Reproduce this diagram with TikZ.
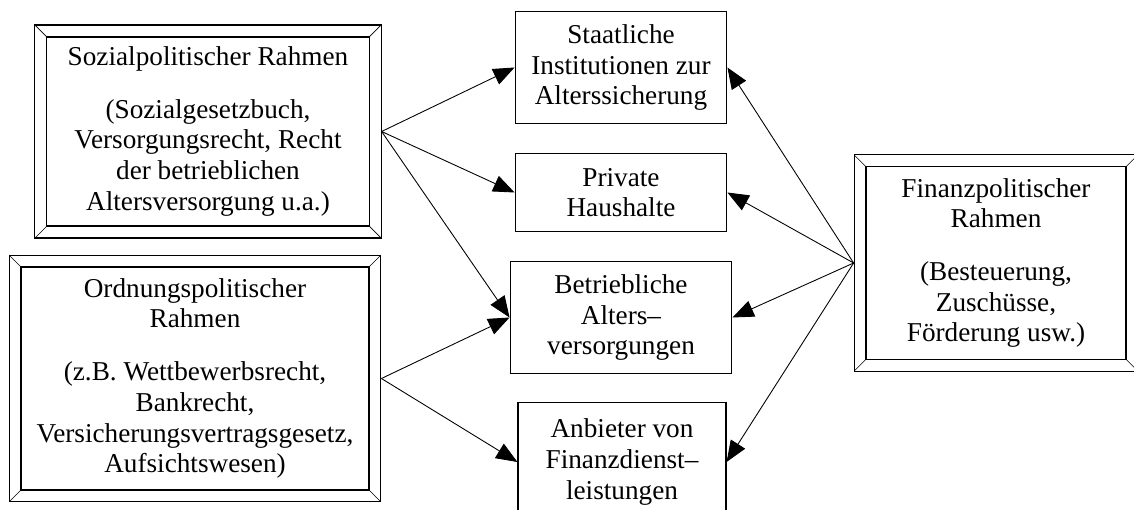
\documentclass[tikz,border=0pt]{standalone}
\usepackage{fontspec}
\setmainfont{Liberation Serif}
\usetikzlibrary{arrows.meta,calc}

\tikzset{
  kasten/.style={draw, line width=0.5pt, align=center, inner sep=2pt,
    font=\fontsize{12.4}{14}\selectfont},
  rahmen/.style={kasten, path picture={
    \draw[line width=0.6pt] ([shift={(0.19cm,0.19cm)}]path picture bounding box.south west)
      rectangle ([shift={(-0.19cm,-0.19cm)}]path picture bounding box.north east);
    \draw[line width=0.3pt] (path picture bounding box.south west) -- ++(0.19cm,0.19cm)
      (path picture bounding box.south east) -- ++(-0.19cm,0.19cm)
      (path picture bounding box.north west) -- ++(0.19cm,-0.19cm)
      (path picture bounding box.north east) -- ++(-0.19cm,-0.19cm);
  }},
  pfeil/.style={-{Triangle[length=0.34cm,width=0.27cm]}, line width=0.4pt}
}

\begin{document}
\begin{tikzpicture}[x=0.016cm,y=-0.016cm]
\useasboundingbox (0,0) rectangle (1134,509);
% Rahmenbedingungen
\node[rahmen, minimum width=5.54cm, minimum height=3.41cm] (sozial) at (208,131.5)
  {Sozialpolitischer Rahmen\\[10pt]
   (Sozialgesetzbuch,\\ Versorgungsrecht, Recht\\ der betrieblichen\\ Altersversorgung u.a.)};
\node[rahmen, minimum width=5.95cm, minimum height=3.95cm] (ordnung) at (195,378.5)
  {Ordnungspolitischer\\ Rahmen\\[10pt]
   (z.B. Wettbewerbsrecht,\\ Bankrecht,\\ Versicherungsvertragsgesetz,\\ Aufsichtswesen)};
\node[rahmen, minimum width=4.54cm, minimum height=3.46cm] (finanz) at (996,263)
  {Finanzpolitischer\\ Rahmen\\[10pt]
   (Besteuerung,\\ Zuschüsse,\\ Förderung usw.)};
% Akteure
\node[kasten, minimum width=3.39cm, minimum height=1.78cm] (staat) at (621,67.5)
  {Staatliche\\ Institutionen zur\\ Alterssicherung};
\node[kasten, minimum width=3.39cm, minimum height=1.26cm] (privat) at (621,192.5)
  {Private\\ Haushalte};
\node[kasten, minimum width=3.55cm, minimum height=1.78cm] (betrieb) at (621,317.5)
  {Betriebliche\\ Alters--\\ versorgungen};
\node[kasten, minimum width=3.33cm, minimum height=1.9cm] (anbieter) at (622,462)
  {Anbieter von\\ Finanzdienst--\\ leistungen};
% Pfeile
\draw[pfeil] (sozial.east) -- (staat.west);
\draw[pfeil] (sozial.east) -- (privat.west);
\draw[pfeil] (sozial.east) -- (betrieb.west);
\draw[pfeil] (ordnung.east) -- (betrieb.west);
\draw[pfeil] (ordnung.east) -- (anbieter.west);
\draw[pfeil] (finanz.west) -- (staat.east);
\draw[pfeil] (finanz.west) -- (privat.east);
\draw[pfeil] (finanz.west) -- (betrieb.east);
\draw[pfeil] (finanz.west) -- (anbieter.east);
\end{tikzpicture}
\end{document}
